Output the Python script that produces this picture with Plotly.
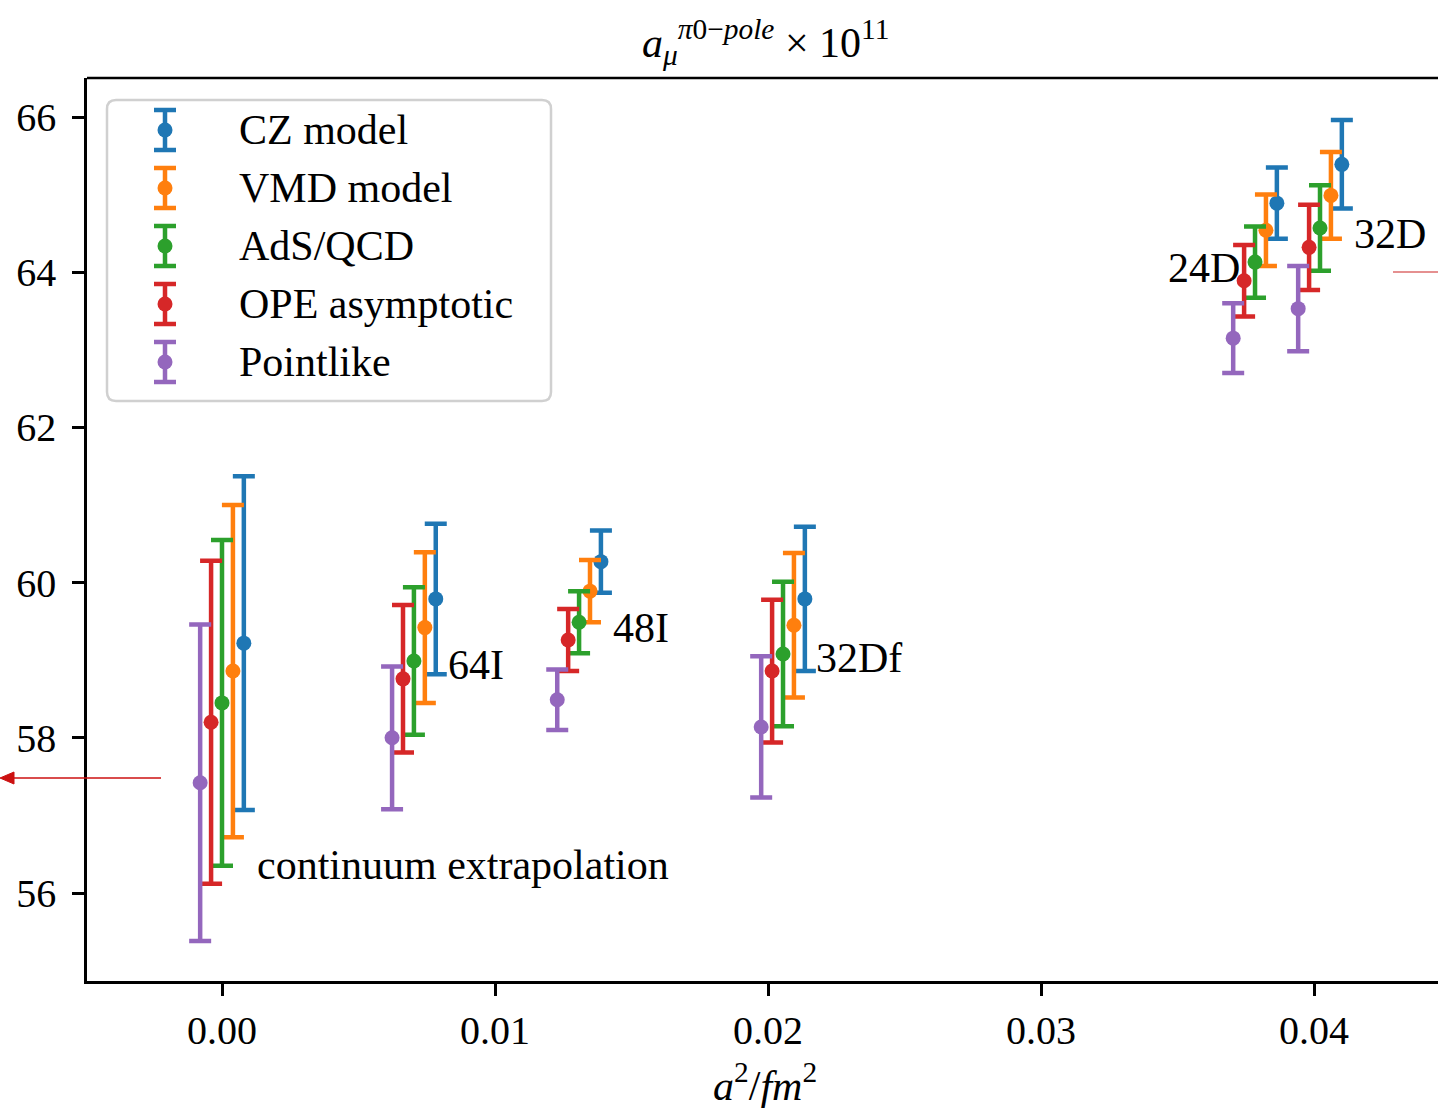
import plotly.graph_objects as go

# ---------------- data ----------------
ensembles = ["continuum", "64I", "48I", "32Df", "24D", "32D"]
a2_values = [0.0, 0.00703, 0.01308, 0.02055, 0.03784, 0.04022]

series_names = ["CZ model", "VMD model", "AdS/QCD", "OPE asymptotic", "Pointlike"]
series_colors = ["#1f77b4", "#ff7f0e", "#2ca02c", "#d62728", "#9467bd"]
series_offsets = [0.0008, 0.0004, 0.0, -0.0004, -0.0008]

cz_vals = [59.22, 59.79, 60.27, 59.79, 64.89, 65.39]
cz_errs = [2.15, 0.97, 0.40, 0.93, 0.46, 0.57]
vmd_vals = [58.86, 59.42, 59.89, 59.45, 64.54, 64.99]
vmd_errs = [2.14, 0.97, 0.40, 0.93, 0.46, 0.56]
ads_vals = [58.45, 58.99, 59.49, 59.08, 64.13, 64.57]
ads_errs = [2.10, 0.95, 0.40, 0.93, 0.46, 0.55]
ope_vals = [58.20, 58.76, 59.26, 58.86, 63.89, 64.32]
ope_errs = [2.08, 0.95, 0.40, 0.92, 0.46, 0.55]
point_vals = [57.42, 58.00, 58.49, 58.14, 63.15, 63.53]
point_errs = [2.04, 0.92, 0.39, 0.91, 0.45, 0.55]

all_vals = [cz_vals, vmd_vals, ads_vals, ope_vals, point_vals]
all_errs = [cz_errs, vmd_errs, ads_errs, ope_errs, point_errs]

ytick_vals = [56, 58, 60, 62, 64, 66]
xtick_vals = [0.00, 0.01, 0.02, 0.03, 0.04]

# ensemble label placements
label_texts = ["continuum extrapolation", "64I", "48I", "32Df", "24D", "32D"]
label_x = [0.00121, 0.00821, 0.01425, 0.02168, 0.03458, 0.04139]
label_y = [56.36, 58.94, 59.41, 59.03, 64.05, 64.49]

# ---------------- layout constants ----------------
W, H = 1438, 1108
ML, MT, MB, MR = 87, 78, 127, 0
PW, PH = W - ML - MR, H - MT - MB
FONT = "Liberation Serif, Times New Roman, DejaVu Serif, serif"
FS = 40
TFS = 42


def px_x(p):
    return (p - ML) / PW


def px_y(p):
    return (H - MB - p) / PH


fig = go.Figure()

for name, color, off, vals, errs in zip(series_names, series_colors, series_offsets, all_vals, all_errs):
    fig.add_trace(go.Scatter(
        x=[a + off for a in a2_values], y=vals, mode="markers", name=name,
        marker=dict(color=color, size=15),
        error_y=dict(type="data", array=errs, symmetric=True, color=color,
                     thickness=4.5, width=11),
        showlegend=False, xaxis="x", yaxis="y",
    ))

# -------- hand-built legend on a pixel-space overlay axis --------
leg_x0, leg_y0, leg_x1, leg_y1 = 107, 100, 551, 401
glyph_x, first_y, step = 165, 130, 58
for i, (name, color) in enumerate(zip(series_names, series_colors)):
    yy = first_y + step * i
    fig.add_trace(go.Scatter(
        x=[glyph_x], y=[yy], mode="markers", showlegend=False,
        marker=dict(color=color, size=15),
        error_y=dict(type="data", array=[20], color=color, thickness=4.5, width=11),
        xaxis="x2", yaxis="y2", hoverinfo="skip",
    ))
    fig.add_annotation(x=237, y=yy, xref="x2", yref="y2", text=name, showarrow=False,
                       xanchor="left", yanchor="middle",
                       font=dict(family=FONT, size=TFS, color="black"))

r = 9
path = (f"M {leg_x0 + r},{leg_y0} L {leg_x1 - r},{leg_y0} Q {leg_x1},{leg_y0} {leg_x1},{leg_y0 + r} "
        f"L {leg_x1},{leg_y1 - r} Q {leg_x1},{leg_y1} {leg_x1 - r},{leg_y1} "
        f"L {leg_x0 + r},{leg_y1} Q {leg_x0},{leg_y1} {leg_x0},{leg_y1 - r} "
        f"L {leg_x0},{leg_y0 + r} Q {leg_x0},{leg_y0} {leg_x0 + r},{leg_y0} Z")
fig.add_shape(type="path", path=path, xref="x2", yref="y2",
              line=dict(color="#d0d0d0", width=2.5), fillcolor="white", layer="below")

# ensemble labels
for t, lx, ly in zip(label_texts, label_x, label_y):
    fig.add_annotation(x=lx, y=ly, xref="x", yref="y", text=t, showarrow=False,
                       xanchor="left", yanchor="middle",
                       font=dict(family=FONT, size=TFS, color="black"))

# top frame line
fig.add_shape(type="line", xref="paper", yref="paper", x0=0, x1=1, y0=1, y1=1,
              line=dict(color="black", width=2.5))

# red annotation marks (left arrow, right tick line)
arrow_y = 778
fig.add_shape(type="line", xref="paper", yref="paper", x0=px_x(10), x1=px_x(161),
              y0=px_y(arrow_y), y1=px_y(arrow_y), line=dict(color="#cc1111", width=1.5))
tri = (f"M {px_x(0)},{px_y(arrow_y)} L {px_x(14)},{px_y(arrow_y - 6)} "
       f"L {px_x(14)},{px_y(arrow_y + 6)} Z")
fig.add_shape(type="path", path=tri, xref="paper", yref="paper",
              line=dict(color="#cc1111", width=1), fillcolor="#cc1111")
fig.add_shape(type="line", xref="paper", yref="paper", x0=px_x(1393), x1=1.0,
              y0=px_y(272), y1=px_y(272), line=dict(color="#cc2222", width=1.2))

# title and x-axis label
fig.add_annotation(x=px_x(765), y=px_y(42), xref="paper", yref="paper",
                   text="<i>a</i><sub><i>μ</i></sub><sup><i>π</i>0−<i>pole</i></sup> × 10<sup>11</sup>",
                   showarrow=False, xanchor="center", yanchor="middle",
                   font=dict(family=FONT, size=TFS, color="black"))
fig.add_annotation(x=px_x(765), y=px_y(1082), xref="paper", yref="paper",
                   text="<i>a</i><sup>2</sup>/<i>fm</i><sup>2</sup>",
                   showarrow=False, xanchor="center", yanchor="middle",
                   font=dict(family=FONT, size=TFS, color="black"))

fig.update_layout(
    width=W, height=H,
    margin=dict(l=ML, r=MR, t=MT, b=MB, pad=0),
    paper_bgcolor="white", plot_bgcolor="white",
    font=dict(family=FONT, size=FS, color="black"),
    showlegend=False,
    xaxis=dict(range=[-0.004945, 0.044542], tickvals=xtick_vals, tickformat=".2f",
               showgrid=False, zeroline=False, showline=True, linecolor="black", linewidth=2.5,
               ticks="outside", ticklen=12, tickwidth=2.5, tickcolor="black",
               ticklabelstandoff=0, tickfont=dict(family=FONT, size=FS)),
    yaxis=dict(range=[54.866, 66.5026], tickvals=ytick_vals,
               showgrid=False, zeroline=False, showline=True, linecolor="black", linewidth=2.5,
               ticks="outside", ticklen=12, tickwidth=2.5, tickcolor="black",
               ticklabelstandoff=8, tickfont=dict(family=FONT, size=FS)),
    xaxis2=dict(range=[ML, W - MR], overlaying="x", visible=False, showticklabels=False,
                showgrid=False, zeroline=False, fixedrange=True),
    yaxis2=dict(range=[H - MB, MT], overlaying="y", visible=False, showticklabels=False,
                showgrid=False, zeroline=False, fixedrange=True),
)

fig.write_html("out.html")
